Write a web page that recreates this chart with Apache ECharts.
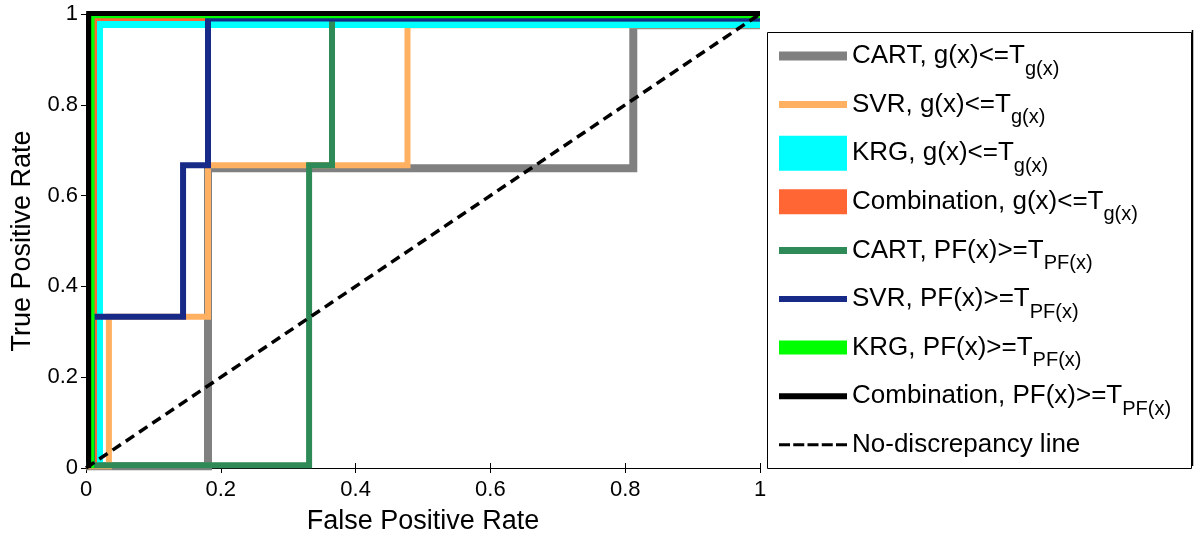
<!DOCTYPE html>
<html>
<head>
<meta charset="utf-8">
<script src="https://cdn.jsdelivr.net/npm/echarts@6/dist/echarts.min.js"></script>
<style>
  html, body { margin: 0; background: #fff; }
  #chart { width: 1196px; height: 536px; }
</style>
</head>
<body>
<div id="chart"></div>
<script>
// tick labels
const xTickLabels = ['0', '0.2', '0.4', '0.6', '0.8', '1']
const yTickLabels = ['0', '0.2', '0.4', '0.6', '0.8', '1']

// legend text (main part + subscript)
const seriesNames = [
  'CART, g(x)<=T', 'SVR, g(x)<=T', 'KRG, g(x)<=T', 'Combination, g(x)<=T',
  'CART, PF(x)>=T', 'SVR, PF(x)>=T', 'KRG, PF(x)>=T', 'Combination, PF(x)>=T',
  'No-discrepancy line'
]
const seriesSubs = ['g(x)', 'g(x)', 'g(x)', 'g(x)', 'PF(x)', 'PF(x)', 'PF(x)', 'PF(x)', '']

// ROC curves, [false positive rate, true positive rate]
const cartG = [[0, 0.004], [0.181, 0.004], [0.181, 0.66], [0.812, 0.66], [0.812, 0.975], [1, 0.975]]
const svrG = [[0, 0.004], [0.034, 0.004], [0.034, 0.333], [0.181, 0.333], [0.181, 0.667], [0.477, 0.667], [0.477, 0.975], [1, 0.975]]
const krgG = [[0.0185, 0], [0.0185, 0.979], [1, 0.979]]
const combG = [[0.0126, 0], [0.0126, 0.99], [1, 0.99]]
const cartPF = [[0, 0.006], [0.331, 0.006], [0.331, 0.667], [0.365, 0.667], [0.365, 0.99], [1, 0.99]]
const svrPF = [[0.009, 0], [0.009, 0.333], [0.144, 0.333], [0.144, 0.667], [0.181, 0.667], [0.181, 0.99], [1, 0.99]]
const krgPF = [[0.009, 0], [0.009, 0.996], [1, 0.996]]
const combPF = [[0.004, 0], [0.004, 1.001], [1, 1.001]]
const diagonal = [[0, 0], [1, 1]]

const seriesData = [cartG, svrG, krgG, combG, cartPF, svrPF, krgPF, combPF, diagonal]
const colors = ['#808080', '#ffb060', '#00ffff', '#ff6633', '#2e8b57', '#172a88', '#00ff00', '#000000', '#000000']
const widths = [8, 6, 9, 5, 6, 6, 5, 5, 3.5]
const swatchHeights = [9, 7, 35, 25, 7, 6, 14, 6, 3]

const font = 'Arial, "Liberation Sans", sans-serif'
const ICON_W = 68
const ICON_H = 48

// swatch path with a fixed 68x48 bounding box so every icon keeps its own thickness
function swatchIcon(i) {
  const h = swatchHeights[i]
  const y0 = (ICON_H - h) / 2
  let p = `M0,0M${ICON_W},${ICON_H}`
  if (i === 8) {
    for (let k = 0; k < 5; k++) {
      const x0 = k * 14.25
      p += `M${x0},${y0}H${x0 + 11}V${y0 + h}H${x0}Z`
    }
  } else {
    p += `M0,${y0}H${ICON_W}V${y0 + h}H0Z`
  }
  return 'path://' + p
}

const chart = echarts.init(document.getElementById('chart'))

chart.setOption({
  animation: false,
  grid: { left: 86, right: 436, top: 14, bottom: 68, containLabel: false, outerBoundsMode: 'none' },
  xAxis: [
    {
      type: 'value', min: 0, max: 1, interval: 0.2,
      name: 'False Positive Rate', nameLocation: 'middle', nameGap: 40,
      nameTextStyle: { fontSize: 27, color: '#000', fontFamily: font },
      axisLine: { lineStyle: { color: '#000', width: 1 } },
      axisTick: { inside: true, length: 5, lineStyle: { color: '#000' } },
      axisLabel: {
        fontSize: 22, color: '#000', fontFamily: font, margin: 11,
        formatter: (v) => xTickLabels[Math.round(v / 0.2)]
      },
      splitLine: { show: false }
    },
    {
      type: 'value', min: 0, max: 1, interval: 0.2, position: 'top',
      axisLine: { lineStyle: { color: '#000', width: 1 } },
      axisTick: { inside: true, length: 5, lineStyle: { color: '#000' } },
      axisLabel: { show: false },
      splitLine: { show: false }
    }
  ],
  yAxis: [
    {
      type: 'value', min: 0, max: 1, interval: 0.2,
      name: 'True Positive Rate', nameLocation: 'middle', nameGap: 50,
      nameTextStyle: { fontSize: 27, color: '#000', fontFamily: font },
      axisLine: { show: true, lineStyle: { color: '#000', width: 1 } },
      axisTick: { show: true, inside: true, length: 5, lineStyle: { color: '#000' } },
      axisLabel: {
        fontSize: 22, color: '#000', fontFamily: font, margin: 8,
        formatter: (v) => yTickLabels[Math.round(v / 0.2)]
      },
      splitLine: { show: false }
    },
    {
      type: 'value', min: 0, max: 1, interval: 0.2, position: 'right',
      axisLine: { show: true, lineStyle: { color: '#000', width: 1 } },
      axisTick: { show: true, inside: true, length: 5, lineStyle: { color: '#000' } },
      axisLabel: { show: false },
      splitLine: { show: false }
    }
  ],
  legend: {
    orient: 'vertical',
    left: 765, top: 30,
    padding: [2, 0, 0, 14],
    itemWidth: ICON_W, itemHeight: ICON_H, itemGap: 0.6,
    symbolKeepAspect: true,
    selectedMode: false,
    itemStyle: { borderWidth: 0 },
    data: seriesNames.map((name, i) => ({
      name,
      icon: swatchIcon(i),
      itemStyle: { color: colors[i], borderWidth: 0 }
    })),
    formatter: (name) => {
      const i = seriesNames.indexOf(name)
      return seriesSubs[i] ? `{m|${name}}{s|${seriesSubs[i]}}` : `{m|${name}}`
    },
    textStyle: {
      color: '#000', fontFamily: font,
      rich: {
        m: { fontSize: 26, lineHeight: 46, color: '#000', fontFamily: font },
        s: { fontSize: 20, lineHeight: 14, verticalAlign: 'bottom', color: '#000', fontFamily: font }
      }
    }
  },
  graphic: [
    {
      type: 'rect', left: 765, top: 30, z: 10, silent: true,
      shape: { width: 424, height: 436 },
      style: { fill: 'none', stroke: '#000', lineWidth: 1 }
    },
    {
      type: 'line', z: 10, silent: true,
      shape: { x1: 1192.5, y1: 30, x2: 1192.5, y2: 466 },
      style: { stroke: '#000', lineWidth: 1.5 }
    }
  ],
  series: seriesData.map((data, i) => ({
    name: seriesNames[i],
    type: 'line',
    data,
    symbol: 'none',
    clip: false,
    color: colors[i],
    lineStyle: {
      color: colors[i],
      width: widths[i],
      type: i === 8 ? [10, 6] : 'solid',
      join: 'miter'
    },
    itemStyle: { color: colors[i] }
  }))
})
</script>
</body>
</html>
